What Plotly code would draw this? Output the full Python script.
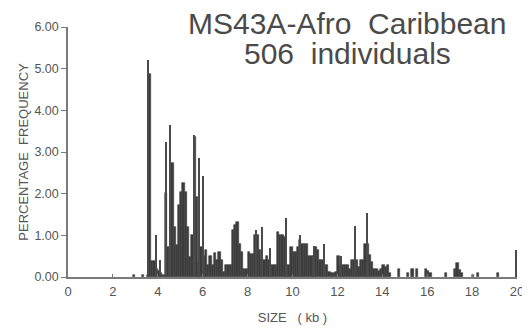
import plotly.graph_objects as go

# Main histogram bins (left edge in kb) and percentage frequency
bin_left = [2.9, 3.3, 3.5, 3.6, 3.7, 3.8, 3.9, 4.0, 4.1, 4.2, 4.3, 4.4, 4.5, 4.6, 4.7, 4.8, 4.9,
            5.0, 5.1, 5.2, 5.3, 5.4, 5.5, 5.6, 5.7, 5.8, 5.9, 6.0, 6.1, 6.2, 6.3, 6.4, 6.5, 6.6,
            6.7, 6.8, 6.9, 7.0, 7.1, 7.2, 7.3, 7.4, 7.5, 7.6, 7.7, 7.8, 7.9, 8.0, 8.1, 8.2, 8.3,
            8.4, 8.5, 8.6, 8.7, 8.8, 8.9, 9.0, 9.1, 9.2, 9.3, 9.4, 9.5, 9.6, 9.7, 9.8, 9.9, 10.0,
            10.1, 10.2, 10.3, 10.4, 10.5, 10.6, 10.7, 10.8, 10.9, 11.0, 11.1, 11.2, 11.3, 11.4,
            11.5, 11.6, 11.7, 11.8, 11.9, 12.0, 12.1, 12.2, 12.3, 12.4, 12.5, 12.6, 12.7, 12.8,
            12.9, 13.0, 13.1, 13.2, 13.3, 13.4, 13.5, 13.6, 13.7, 13.8, 13.9, 14.0, 14.1, 14.2,
            14.3, 14.7, 15.1, 15.3, 15.5, 15.9, 16.0, 16.1, 16.8, 17.2, 17.3, 17.4, 17.5, 18.0,
            18.2, 19.1]
freq = [0.05, 0.06, 0.05, 4.88, 0.38, 0.38, 0.19, 0.15, 0.10, 0.05, 2.02, 0.73, 0.73, 2.73, 1.20,
        0.78, 1.72, 2.05, 2.25, 2.05, 1.20, 0.49, 1.00, 3.35, 1.93, 0.33, 0.73, 0.50, 0.65, 0.30,
        0.50, 0.30, 0.57, 0.40, 0.60, 0.40, 0.13, 0.29, 0.29, 0.29, 1.13, 1.25, 1.33, 0.80, 0.60,
        0.20, 0.20, 0.60, 0.55, 0.55, 1.00, 1.00, 0.65, 0.40, 0.40, 0.50, 0.40, 0.30, 0.30, 0.30,
        1.09, 1.00, 1.00, 0.95, 0.30, 0.30, 0.72, 0.60, 0.60, 0.72, 0.88, 0.80, 0.80, 0.80, 0.50,
        0.50, 0.50, 0.72, 0.65, 0.40, 0.40, 0.30, 0.29, 0.13, 0.10, 0.10, 0.13, 0.50, 0.30, 0.30,
        0.30, 0.30, 0.20, 0.40, 0.40, 0.40, 0.25, 0.40, 0.40, 0.80, 0.80, 0.53, 0.37, 0.20, 0.20,
        0.15, 0.20, 0.30, 0.25, 0.28, 0.10, 0.20, 0.10, 0.20, 0.20, 0.20, 0.15, 0.10, 0.10, 0.20,
        0.33, 0.18, 0.10, 0.05, 0.10, 0.10]

# Narrow spikes (kb position) and percentage frequency
spike_size = [3.57, 3.91, 4.12, 4.37, 4.56, 5.62, 5.83, 6.00, 8.36, 8.66, 9.02, 9.72, 10.35,
              10.95, 11.42, 12.15, 12.77, 13.33, 19.95]
spike_freq = [5.20, 1.00, 0.40, 3.25, 3.65, 3.40, 2.85, 2.42, 1.13, 1.20, 0.70, 1.41, 1.00,
              0.75, 0.80, 0.50, 1.22, 1.53, 0.65]

x_ticks = [0, 2, 4, 6, 8, 10, 12, 14, 16, 18, 20]
y_ticks = [0, 1, 2, 3, 4, 5, 6]
y_tick_text = ["0.00", "1.00", "2.00", "3.00", "4.00", "5.00", "6.00"]

title_lines = ["MS43A-Afro  Caribbean", "506  individuals"]

BIN_W = 0.1
bar_x = [b + BIN_W / 2 for b in bin_left]

bar_col = "#3c3c3c"
fig = go.Figure()
fig.add_trace(go.Bar(x=bar_x, y=freq, width=BIN_W,
                     marker=dict(color=bar_col, line=dict(width=0.6, color=bar_col)),
                     showlegend=False))
fig.add_trace(go.Bar(x=spike_size, y=spike_freq, width=0.045,
                     marker=dict(color="#4a4a4a", line=dict(width=0)), showlegend=False))

axis_col = "#7a7a7a"
txt_col = "#555555"
font_fam = "Liberation Sans, Arial, sans-serif"

# page body has an 8px default margin, so the figure is sized to fit inside the window
fig.update_layout(
    width=522, height=321,
    margin=dict(l=60, r=13, t=19, b=52),
    paper_bgcolor="white", plot_bgcolor="white",
    barmode="overlay", bargap=0,
    font=dict(family=font_fam, color=txt_col, size=13),
    xaxis=dict(range=[0, 20], tickvals=x_ticks, ticks="inside", ticklen=3, tickcolor=axis_col,
               showline=True, linecolor=axis_col, linewidth=1.5, showgrid=False, zeroline=False,
               automargin=False, tickfont=dict(size=13, color=txt_col), ticklabelstandoff=2,
               title=dict(text="SIZE   ( kb )", font=dict(size=13, color=txt_col), standoff=15)),
    yaxis=dict(range=[0, 6], tickvals=y_ticks, ticktext=y_tick_text, ticks="outside", ticklen=5,
               tickcolor=axis_col, showline=True, linecolor=axis_col, linewidth=1.5,
               showgrid=False, zeroline=False, automargin=False,
               tickfont=dict(size=12.5, color=txt_col),
               title=dict(text="PERCENTAGE  FREQUENCY", font=dict(size=13, color=txt_col),
                          standoff=3)),
    annotations=[
        dict(text=title_lines[0], xref="paper", yref="paper", x=0.6236, y=0.944,
             xanchor="center", yanchor="bottom", showarrow=False, borderpad=0,
             font=dict(size=30, color="#4a4a4a", family=font_fam)),
        dict(text=title_lines[1], xref="paper", yref="paper", x=0.6236, y=0.826,
             xanchor="center", yanchor="bottom", showarrow=False, borderpad=0,
             font=dict(size=30, color="#4a4a4a", family=font_fam)),
    ],
)

fig.write_html("out.html")
